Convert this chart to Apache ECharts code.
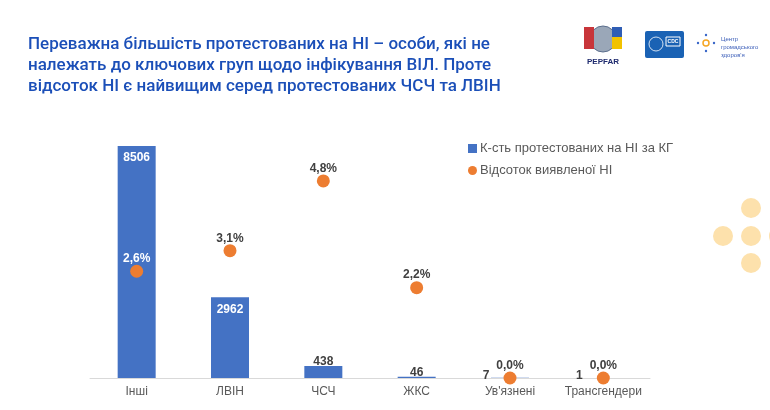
<!DOCTYPE html>
<html><head><meta charset="utf-8">
<script src="https://cdn.jsdelivr.net/npm/echarts@6/dist/echarts.min.js"></script>
<style>html,body{margin:0;padding:0;background:#fff}#c{width:770px;height:410px}</style>
</head><body><div id="c"></div>
<script>
const categories = ['Інші', 'ЛВІН', 'ЧСЧ', 'ЖКС', "Ув'язнені", 'Трансгендери'];
const testedCounts = [8506, 2962, 438, 46, 7, 1];
const positivityPct = [2.6, 3.1, 4.8, 2.2, 0.0, 0.0];
const seriesNames = ['К-сть протестованих на НІ за КГ', 'Відсоток виявленої НІ'];
const titleLines = ['Переважна більшість протестованих на НІ – особи, які не',
  'належать до ключових груп щодо інфікування ВІЛ. Проте',
  'відсоток НІ є найвищим серед протестованих ЧСЧ та ЛВІН'];

const chart = echarts.init(document.getElementById('c'), null, {renderer: 'canvas'});
const labelFont = {fontFamily: 'Liberation Sans, Arial, sans-serif', fontWeight: 'bold', fontSize: 12};

const barData = testedCounts.map((v, i) => {
  const d = {value: v};
  if (v > 1000) d.label = {position: 'insideTop', color: '#fff', distance: 6, offset: [0, 0]};
  if (i >= 4) d.label = {offset: [-24, 4]};
  return d;
});
const dotData = positivityPct.map((v, i) => {
  const d = {value: v};
  if (i === 0) d.label = {color: '#fff'};
  return d;
});

chart.setOption({
  animation: false,
  title: {
    text: titleLines.join('\n'), left: 23, top: 29,
    textStyle: {fontFamily: 'Roboto, sans-serif', fontWeight: 500, fontSize: 17, lineHeight: 21, color: '#1B4FB8'}
  },
  legend: {
    orient: 'vertical', left: 463, top: 137, itemGap: 9, itemWidth: 9, itemHeight: 9,
    textStyle: {fontFamily: 'Liberation Sans, Arial, sans-serif', fontSize: 13, color: '#595959', padding: [0, 0, 0, -2]},
    data: [{name: seriesNames[0], icon: 'rect'}, {name: seriesNames[1], icon: 'circle'}]
  },
  grid: {left: 90, right: 120, top: 146, bottom: 32},
  xAxis: {
    type: 'category', data: categories,
    axisLine: {lineStyle: {color: '#D9D9D9'}}, axisTick: {show: false},
    axisLabel: {interval: 0, fontFamily: 'Liberation Sans, Arial, sans-serif', fontSize: 12, color: '#595959', margin: 8}
  },
  yAxis: [
    {type: 'value', min: 0, max: 8506, show: false, splitLine: {show: false}},
    {type: 'value', min: 0, max: 5.65, show: false, splitLine: {show: false}}
  ],
  series: [
    {
      name: seriesNames[0], type: 'bar', data: barData, barWidth: 38, yAxisIndex: 0,
      itemStyle: {color: '#4472C4'},
      label: Object.assign({show: true, position: 'top', color: '#404040', distance: 0, offset: [0, 2]}, labelFont)
    },
    {
      name: seriesNames[1], type: 'scatter', data: dotData, yAxisIndex: 1, symbolSize: 13, z: 5,
      itemStyle: {color: '#ED7D31', opacity: 1},
      label: Object.assign({show: true, position: 'top', color: '#404040', distance: 1, offset: [0, 1],
        formatter: p => p.value.toFixed(1).replace('.', ',') + '%'}, labelFont)
    }
  ],
  graphic: [
    {type: 'circle', shape: {cx: 751, cy: 208, r: 10}, style: {fill: '#FDE1AC'}},
    {type: 'circle', shape: {cx: 723, cy: 236, r: 10}, style: {fill: '#FDE1AC'}},
    {type: 'circle', shape: {cx: 751, cy: 236, r: 10}, style: {fill: '#FDE1AC'}},
    {type: 'circle', shape: {cx: 751, cy: 263, r: 10}, style: {fill: '#FDE1AC'}},
    {type: 'circle', shape: {cx: 779, cy: 236, r: 10}, style: {fill: '#FDE1AC'}},
    // PEPFAR logo approximation
    {type: 'circle', shape: {cx: 603, cy: 39, r: 13}, style: {fill: '#9AA7B8', stroke: '#5B6E8C', lineWidth: 1}},
    {type: 'rect', shape: {x: 584, y: 27, width: 10, height: 22}, style: {fill: '#C8353A'}},
    {type: 'rect', shape: {x: 612, y: 27, width: 10, height: 22}, style: {fill: '#F2C200'}},
    {type: 'rect', shape: {x: 612, y: 27, width: 10, height: 10}, style: {fill: '#2F5DB4'}},
    {type: 'text', style: {x: 603, y: 62, text: 'PEPFAR', fill: '#1E2A6E', font: 'bold 8px Liberation Sans', align: 'center', verticalAlign: 'middle'}},
    // CDC logo approximation
    {type: 'rect', shape: {x: 645, y: 31, width: 39, height: 27, r: 2}, style: {fill: '#1A62B4'}},
    {type: 'rect', shape: {x: 666, y: 37, width: 14, height: 9}, style: {fill: 'none', stroke: '#fff', lineWidth: 1}},
    {type: 'text', style: {x: 673, y: 41.5, text: 'CDC', fill: '#fff', font: 'bold 5px Liberation Sans', align: 'center', verticalAlign: 'middle'}},
    {type: 'circle', shape: {cx: 656, cy: 44, r: 7}, style: {fill: 'none', stroke: '#fff', lineWidth: 0.8}},
    // Public health centre logo approximation
    {type: 'circle', shape: {cx: 706, cy: 43, r: 3}, style: {fill: 'none', stroke: '#F5A623', lineWidth: 1.5}},
    {type: 'circle', shape: {cx: 706, cy: 35, r: 1.2}, style: {fill: '#3A67C8'}},
    {type: 'circle', shape: {cx: 706, cy: 51, r: 1.2}, style: {fill: '#3A67C8'}},
    {type: 'circle', shape: {cx: 698, cy: 43, r: 1.2}, style: {fill: '#3A67C8'}},
    {type: 'circle', shape: {cx: 714, cy: 43, r: 1.2}, style: {fill: '#3A67C8'}},
    {type: 'text', style: {x: 721, y: 35, text: 'Центр\nгромадського\nздоров\'я', fill: '#3A5DB8', font: '6px Liberation Sans', lineHeight: 8, verticalAlign: 'top'}}
  ]
});
</script></body></html>
